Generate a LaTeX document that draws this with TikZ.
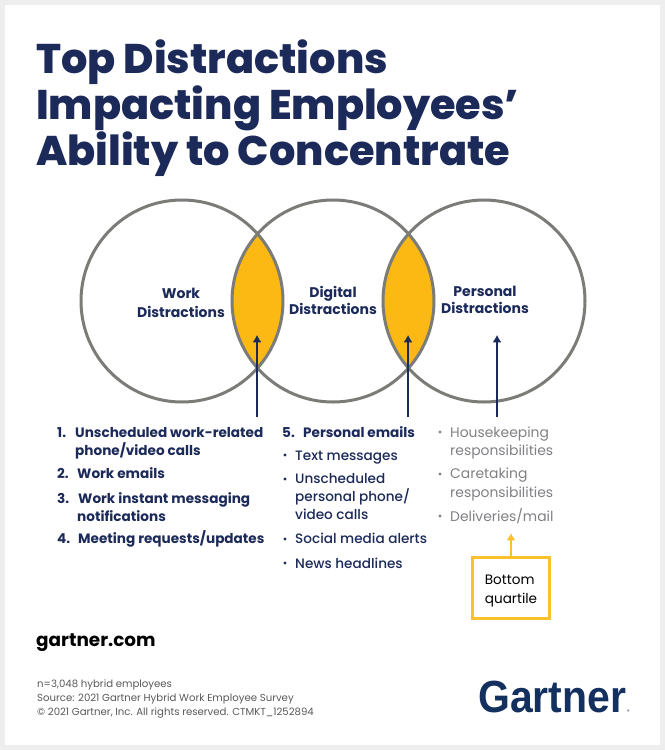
\documentclass[tikz,border=0pt]{standalone}
\usepackage{fontspec}
\setmainfont{Poppins}
\newfontfamily\heavyfont{Poppins ExtraBold}
\newfontfamily\mediumfont{Poppins Medium}
\newfontfamily\logofont[FakeStretch=0.91]{Liberation Sans}
\usetikzlibrary{arrows.meta}
\definecolor{navy}{HTML}{1C2A5A}
\definecolor{logoblue}{HTML}{14305E}
\definecolor{ring}{HTML}{7B7C78}
\definecolor{amber}{HTML}{FDB913}
\definecolor{boxamber}{HTML}{FBC12D}
\definecolor{softgrey}{HTML}{808184}
\definecolor{page}{HTML}{EEEEEE}
\tikzset{venn/.style={circle,draw=ring,line width=3pt,minimum size=202pt,inner sep=0pt},
 vennlabel/.style={navy,font=\fontsize{14}{17}\selectfont\bfseries,align=center,inner sep=0pt},
 title/.style={navy,font=\fontsize{41.4}{41}\selectfont\heavyfont,anchor=base west,inner sep=0pt},
 boldline/.style={navy,font=\fontsize{13.6}{16}\selectfont\bfseries,anchor=base west,inner sep=0pt},
 midline/.style={navy,font=\fontsize{13.6}{16}\selectfont\mediumfont,anchor=base west,inner sep=0pt},
 greyline/.style={softgrey,font=\fontsize{13.9}{16}\selectfont,anchor=base west,inner sep=0pt},
 foot/.style={black!65,font=\fontsize{10.15}{12}\selectfont,anchor=base west,inner sep=0pt},
 arrow/.style={-{Latex[length=2.6mm,width=3.2mm]},line width=1.2pt,navy},
 amberarrow/.style={-{Latex[length=2.6mm,width=3.2mm]},line width=1.3pt,boxamber}}

\begin{document}
\begin{tikzpicture}[x=1pt,y=-1pt]
 \fill[page] (0,0) rectangle (665,750);
 \fill[white] (5,5) rectangle (660,745);
 \useasboundingbox (0,0) rectangle (665,750);
 % title
 \node[title] (t1) at (36,73) {Top Distractions};
 \node[title] (t2) at (36,119) {Impacting Employees’};
 \node[title] (t3) at (36,165) {Ability to Concentrate};
 % circles
 \begin{scope}
  \clip (333,301) circle (101);
  \fill[amber] (182,301) circle (101);
  \fill[amber] (484,301) circle (101);
 \end{scope}
 \node[venn] (work) at (182,301) {};
 \node[venn] (digital) at (333,301) {};
 \node[venn] (personal) at (484,301) {};
 \node[vennlabel] (worklab) at (181,303) {Work\\[2pt]Distractions};
 \node[vennlabel] (digitallab) at (333,300) {Digital\\Distractions};
 \node[vennlabel] (personallab) at (485,300) {Personal\\Distractions};
 % arrows
 \coordinate (headA) at (257,335);
 \coordinate (tailA) at (257,417);
 \coordinate (headB) at (408,335);
 \coordinate (tailB) at (408,417);
 \coordinate (headC) at (497,335);
 \coordinate (tailC) at (497,417);
 \draw[arrow] (tailA)--(headA);
 \draw[arrow] (tailB)--(headB);
 \draw[arrow] (tailC)--(headC);
 % left list
 \foreach \i/\xx/\yy/\txt in {a/57/437/{1.},b/75/437/{Unscheduled work-related},c/75/455/{phone/video calls},
   d/57/478/{2.},e/77/478/{Work emails},f/57/503/{3.},g/78/503/{Work instant messaging},h/77/521/{notifications},
   i/57/543/{4.},j/78/543/{Meeting requests/updates}}{
  \node[boldline] (left\i) at (\xx,\yy) {\txt};
 }
 % middle list
 \node[boldline] (midnum) at (282,437) {5.};
 \node[boldline] (midtop) at (303,437) {Personal emails};
 \foreach \i/\yy/\txt in {a/460/{Text messages},b/483/{Unscheduled},c/501/{personal phone/},d/519/{video calls},e/543/{Social media alerts},f/568/{News headlines}}{
  \node[midline] (mid\i) at (295,\yy) {\txt};
 }
 \foreach \yy in {455,479,539,563}{
  \fill[navy] (285,\yy) circle (1.6);
 }
 % right list
 \foreach \i/\yy/\txt in {a/437/{Housekeeping},b/455/{responsibilities},c/478/{Caretaking},d/497/{responsibilities},e/521/{Deliveries/mail}}{
  \node[greyline] (right\i) at (450,\yy) {\txt};
 }
 \foreach \yy in {432,474,516}{
  \fill[softgrey] (440,\yy) circle (1.6);
 }
 % quartile box
 \node[draw=boxamber,line width=3pt,minimum width=77pt,minimum height=61pt,inner sep=0pt] (quartile) at (511,588) {};
 \node[align=left,inner sep=0pt,font=\fontsize{13.6}{19}\selectfont] (quartiletext) at (511,591) {Bottom\\quartile};
 \coordinate (headD) at (511,533);
 \draw[amberarrow] (quartile.north)--(headD);
 % footer
 \node[anchor=base west,inner sep=0pt,font=\fontsize{18.4}{20}\selectfont\bfseries] (site) at (36,646) {gartner.com};
 \node[foot] (foota) at (37,687) {n=3,048 hybrid employees};
 \node[foot] (footb) at (37,701) {Source: 2021 Gartner Hybrid Work Employee Survey};
 \node[foot] (footc) at (37,715) {© 2021 Gartner, Inc. All rights reserved. CTMKT\_1252894};
 \node[anchor=base west,inner sep=0pt,logoblue,font=\fontsize{45}{45}\selectfont\logofont\bfseries] (logo) at (478,712) {Gartner};
 \node[anchor=base west,inner sep=0pt,logoblue,font=\fontsize{5}{6}\selectfont] (logoreg) at (627,713) {®};
\end{tikzpicture}
\end{document}
